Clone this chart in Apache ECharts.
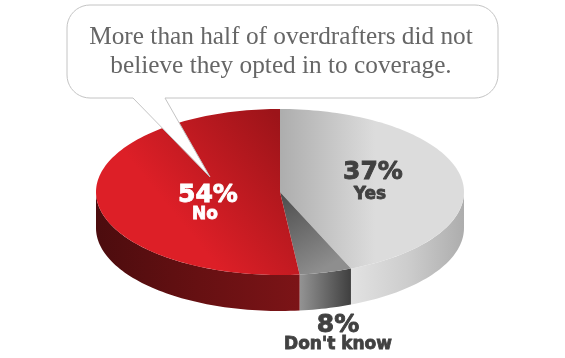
<!DOCTYPE html>
<html><head><meta charset="utf-8">
<style>html,body{margin:0;padding:0;background:#fff}#c{width:565px;height:358px}</style>
<script src="https://cdn.jsdelivr.net/npm/echarts@6/dist/echarts.min.js"></script>
</head><body><div id="c"></div>
<script>
var categories = ['Yes', "Don't know", 'No'];
var labelPercents = [37, 8, 54];
// Share of the ellipse each wedge occupies as drawn in the picture
var drawnShares = [43.7, 4.6, 51.7];
var headlineLines = ['More than half of overdrafters did not', 'believe they opted in to coverage.'];

var G = echarts.graphic.LinearGradient;
var CX = 280, CY = 192, RX = 184, RY = 83, DEPTH = 36;
function grad(x0, y0, x1, y1, stops) {
  return new G(x0, y0, x1, y1, stops.map(function (s) { return { offset: s[0], color: s[1] }; }), true);
}
var topFills = [
  grad(280, 0, 375, 0, [[0, '#adadad'], [1, '#dcdcdc']]),
  grad(283, 196, 325, 268, [[0, '#4f4f4f'], [1, '#8e8e8e']]),
  grad(285, 125, 175, 215, [[0, '#9c1419'], [1, '#dd1f27']])
];
var sideFills = [
  grad(351, 0, 464, 0, [[0, '#e2e2e2'], [0.5, '#cdcdcd'], [1, '#adadad']]),
  grad(300, 0, 351, 0, [[0, '#939393'], [1, '#3f3f3f']]),
  grad(96, 0, 300, 0, [[0, '#4c0c0e'], [0.5, '#661012'], [1, '#7c1417']])
];
var labelSpots = [
  { x: 373, y: 172, x2: 370, y2: 195, color: '#414141' },
  { x: 338, y: 325, x2: 338, y2: 345, color: '#414141' },
  { x: 208, y: 195, x2: 205, y2: 215, color: '#ffffff' }
];

function pt(tDeg, dy) {
  var t = tDeg * Math.PI / 180;
  return [CX + RX * Math.sin(t), CY - RY * Math.cos(t) + (dy || 0)];
}
function arc(a, b, dy) {
  var out = [], n = Math.max(2, Math.ceil(Math.abs(b - a) / 1.5));
  for (var i = 0; i <= n; i++) out.push(pt(a + (b - a) * i / n, dy));
  return out;
}
function renderItem(params, api) {
  var i = params.dataIndex, before = 0;
  for (var k = 0; k < i; k++) before += drawnShares[k];
  var a = before * 3.6, b = (before + api.value(1)) * 3.6;
  var kids = [];
  var sa = Math.max(a, 90), sb = Math.min(b, 270);
  if (sb > sa) {
    kids.push({ type: 'polygon', shape: { points: arc(sa, sb, 0).concat(arc(sb, sa, DEPTH)) },
      style: { fill: sideFills[i] } });
  }
  kids.push({ type: 'polygon', shape: { points: [[CX, CY]].concat(arc(a, b, 0)) },
    style: { fill: topFills[i] } });
  var s = labelSpots[i];
  kids.push({ type: 'text', style: { x: s.x, y: s.y, text: api.value(2) + '%', fill: s.color,
    stroke: s.color, lineWidth: 0.9,
    font: '900 25px "DejaVu Sans"', textAlign: 'center', textVerticalAlign: 'middle' } });
  kids.push({ type: 'text', style: { x: s.x2, y: s.y2, text: categories[i], fill: s.color,
    stroke: s.color, lineWidth: 0.8,
    font: '900 17px "DejaVu Sans"', textAlign: 'center', textVerticalAlign: 'middle' } });
  return { type: 'group', children: kids };
}

// Speech bubble outline: rounded box with a tail reaching into the pie
function bubblePoints() {
  var L = 67, R = 498, T = 5, B = 98, r = 23, pts = [];
  function corner(cx, cy, a0) {
    for (var i = 0; i <= 10; i++) {
      var a = (a0 + 9 * i) * Math.PI / 180;
      pts.push([cx + r * Math.cos(a), cy + r * Math.sin(a)]);
    }
  }
  corner(L + r, T + r, 180);
  corner(R - r, T + r, 270);
  corner(R - r, B - r, 0);
  pts.push([165, B], [210, 177], [133, B]);
  corner(L + r, B - r, 90);
  return pts;
}

var chart = echarts.init(document.getElementById('c'), null, { renderer: 'canvas' });
chart.setOption({
  animation: false,
  backgroundColor: '#ffffff',
  series: [{
    type: 'custom', coordinateSystem: 'none', renderItem: renderItem,
    data: categories.map(function (c, i) { return [i, drawnShares[i], labelPercents[i]]; }),
    silent: true
  }],
  graphic: [
    { type: 'polygon', z: 100, shape: { points: bubblePoints() },
      style: { fill: '#ffffff', stroke: '#c4c4c4', lineWidth: 1 } },
    { type: 'text', z: 101, style: { x: 281, y: 37, text: headlineLines[0], fill: '#666666',
        font: '25.3px "Liberation Serif"', textAlign: 'center', textVerticalAlign: 'middle' } },
    { type: 'text', z: 101, style: { x: 281, y: 66, text: headlineLines[1], fill: '#666666',
        font: '25.3px "Liberation Serif"', textAlign: 'center', textVerticalAlign: 'middle' } }
  ]
});
</script></body></html>
